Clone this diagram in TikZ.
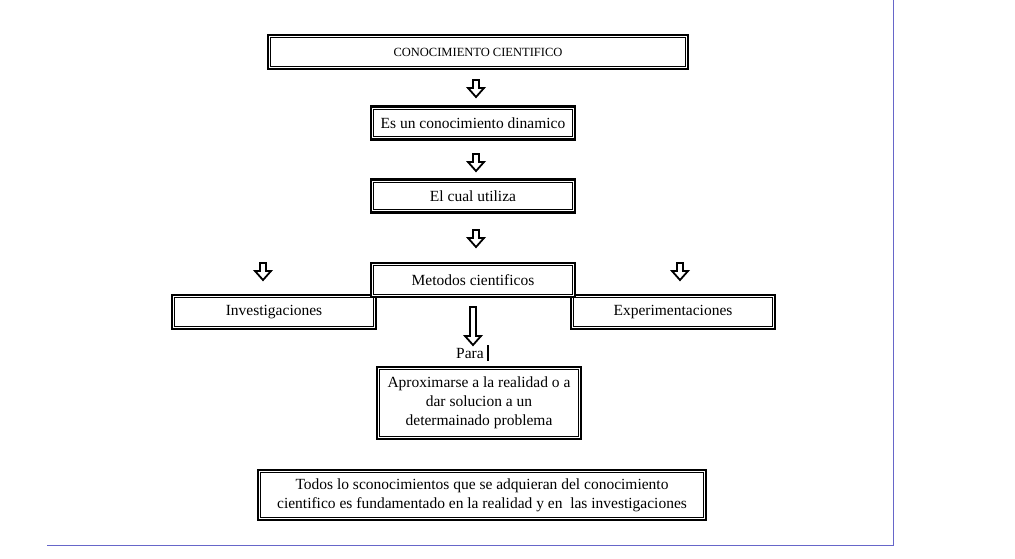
\documentclass[tikz,border=0pt]{standalone}
\usepackage{fontspec}
\setmainfont{Liberation Serif}
\newcommand{\blockdown}[3]{% x, y top, length
\draw[line width=1.8pt,line join=miter] (#1-3,#2) -- (#1+3,#2) -- (#1+3,#2+#3-9) -- (#1+8,#2+#3-9) -- (#1,#2+#3) -- (#1-8,#2+#3-9) -- (#1-3,#2+#3-9) -- cycle;}
\begin{document}
\begin{tikzpicture}[x=1pt,y=-1pt,
  dbox/.style={draw,line width=2.4pt,inner sep=0pt,font=\fontsize{15.5}{19}\selectfont,align=center,fill=white}]
\useasboundingbox (0,0) rectangle (1015,558);
% frame of the page
\draw[color=black!35!blue!60,line width=0.8pt] (893,0) -- (893,545) -- (47,545);
% all the boxes
\node[dbox,minimum width=420pt,minimum height=34pt,font=\fontsize{12.5}{15}\selectfont] (top) at (478,52) {CONOCIMIENTO CIENTIFICO};
\node[dbox,minimum width=204pt,minimum height=33pt] (din) at (473,123) {Es un conocimiento dinamico};
\node[dbox,minimum width=204pt,minimum height=33pt] (usa) at (473,196) {El cual utiliza};
\node[dbox,minimum width=204pt,minimum height=34pt] (inv) at (274,312) {Investigaciones};
\node[dbox,minimum width=204pt,minimum height=34pt] (exp) at (673,312) {Experimentaciones};
\node[dbox,minimum width=204pt,minimum height=34pt] (met) at (473,280) {Metodos cientificos};
\node[dbox,minimum width=204pt,minimum height=72pt] (apr) at (479,403) {Aproximarse a la realidad o a\\dar solucion a un\\determainado problema};
\node[dbox,minimum width=448pt,minimum height=50pt] (tod) at (482,495) {Todos lo sconocimientos que se adquieran del conocimiento\\cientifico es fundamentado en la realidad y en\ \ las investigaciones};
\node[font=\fontsize{15.5}{19}\selectfont] (para) at (470,353) {Para};
\draw[line width=1.2pt] (488,345) -- (488,361);
% inner lines of the boxes
\foreach \n in {top,din,usa,inv,exp,met,apr,tod}
  \draw[line width=0.7pt] ([xshift=4pt,yshift=-4pt]\n.north west) rectangle ([xshift=-4pt,yshift=4pt]\n.south east);
% arrows
\blockdown{476}{80}{17}
\blockdown{476}{154}{17}
\blockdown{476}{230}{17}
\blockdown{263}{263}{17}
\blockdown{680}{263}{17}
\blockdown{473}{307}{38}
\end{tikzpicture}
\end{document}
